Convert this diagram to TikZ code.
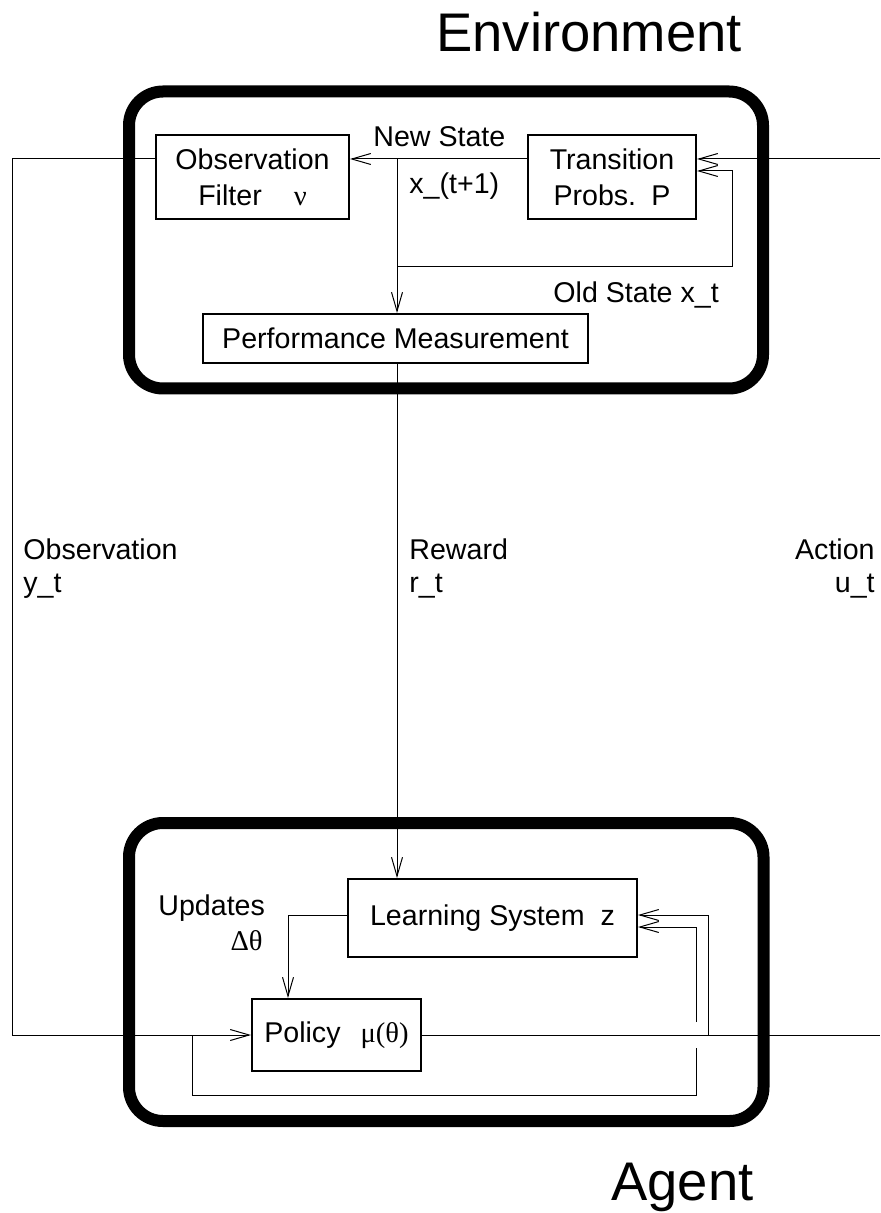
\documentclass[tikz,border=0pt]{standalone}
\usepackage{fontspec}
\setmainfont{Liberation Sans}
\newfontfamily\grk{Liberation Serif}
\usetikzlibrary{arrows.meta}
\begin{document}
\begin{tikzpicture}[x=0.5pt,y=-0.5pt,
  conn/.style={line width=0.5pt},
  arr/.style={conn,-{Straight Barb[length=9.5pt,width=5.5pt]}},
  blk/.style={draw,line width=1pt,inner sep=0pt,align=center,
    font=\fontsize{14.3}{18}\selectfont},
  lbl/.style={inner sep=0pt,font=\fontsize{14.3}{16.5}\selectfont},
  frame/.style={draw,line width=6pt,rounded corners=17pt,inner sep=0pt},
  ttl/.style={inner sep=0pt,font=\fontsize{27.2}{30}\selectfont}]

\useasboundingbox (0,0) rectangle (880,1213);

% ---- enclosing frames and titles ----
\node[frame,minimum width=317pt,minimum height=148.5pt] (envbox) at (446,240) {};
\node[frame,minimum width=317.25pt,minimum height=149pt] (agentbox) at (446.25,972) {};
\node[ttl,anchor=base west] (envtitle) at (436,52) {Environment};
\node[ttl,anchor=base west] (agenttitle) at (611,1200) {Agent};

% ---- environment blocks ----
\node[blk,minimum width=96.5pt,minimum height=42pt] (obs) at (252.5,177)
  {Observation\\Filter\hspace{16pt}{\grk ν}};
\node[blk,minimum width=84pt,minimum height=42pt] (trans) at (612,177)
  {Transition\\Probs.\hspace{7.6pt}P};
\node[blk,minimum width=192.5pt,minimum height=24.5pt] (perf) at (395.5,338.5)
  {Performance Measurement};

% ---- agent blocks ----
\node[blk,minimum width=144.5pt,minimum height=39pt] (learn) at (492.5,918)
  {Learning System\hspace{8pt}z};
\node[blk,minimum width=84.5pt,minimum height=36pt] (policy) at (336.5,1035)
  {Policy\hspace{10pt}{\grk μ(θ)}};

% ---- routing points ----
\coordinate (ns) at (397,159);
\coordinate (os) at (397,267);
\coordinate (osr) at (732,171);
\coordinate (ol) at (12,159);
\coordinate (pl) at (12,1035);
\coordinate (ar) at (880,1035);
\coordinate (at) at (880,159);
\coordinate (b1) at (192,1035);
\coordinate (b2) at (696,1095);
\coordinate (b3) at (696,1048);
\coordinate (b4) at (696,1022);
\coordinate (b5) at (696,927);
\coordinate (c1) at (708,1035);
\coordinate (c2) at (708,915);
\coordinate (u1) at (288,915);

% ---- environment connections ----
\draw[arr] (trans.west |- ns) -- (obs.east |- ns);
\draw[arr] (ns) -- (ns |- perf.north);
\draw[arr] (os) -| (osr) -- (trans.east |- osr);
\draw[arr] (at) -- (trans.east |- at);

% ---- signals between environment and agent ----
\draw[arr] (obs.west |- ns) -- (ol) -- (pl) -- (policy.west);
\draw[arr] (ns |- perf.south) -- (ns |- learn.north);
\draw[conn] (policy.east) -- (ar);

% ---- agent internals ----
\draw[arr] (learn.west |- u1) -- (u1) -- (u1 |- policy.north);
\draw[arr] (c1) -- (c2) -- (learn.east |- c2);
\draw[conn] (b1) |- (b2) -- (b3);
\draw[arr] (b4) -- (b5) -- (learn.east |- b5);

% ---- labels ----
\node[lbl,anchor=base west] (newstate) at (373,147) {New State};
\node[lbl,anchor=base west] (xnext) at (409,194) {x\_(t+1)};
\node[lbl,anchor=base west] (oldstate) at (553,303) {Old State x\_t};
\node[lbl,anchor=base west,align=left] (obslbl) at (23,592) {Observation\\y\_t};
\node[lbl,anchor=base west,align=left] (rewlbl) at (409,592) {Reward\\r\_t};
\node[lbl,anchor=base east,align=right] (actlbl) at (875,592) {Action\\u\_t};
\node[lbl,anchor=base west] (updlbl) at (158,915) {Updates};
\node[lbl,anchor=base east,font=\fontsize{14.3}{16.5}\grk] (dtheta) at (263,950) {Δθ};
\end{tikzpicture}
\end{document}
